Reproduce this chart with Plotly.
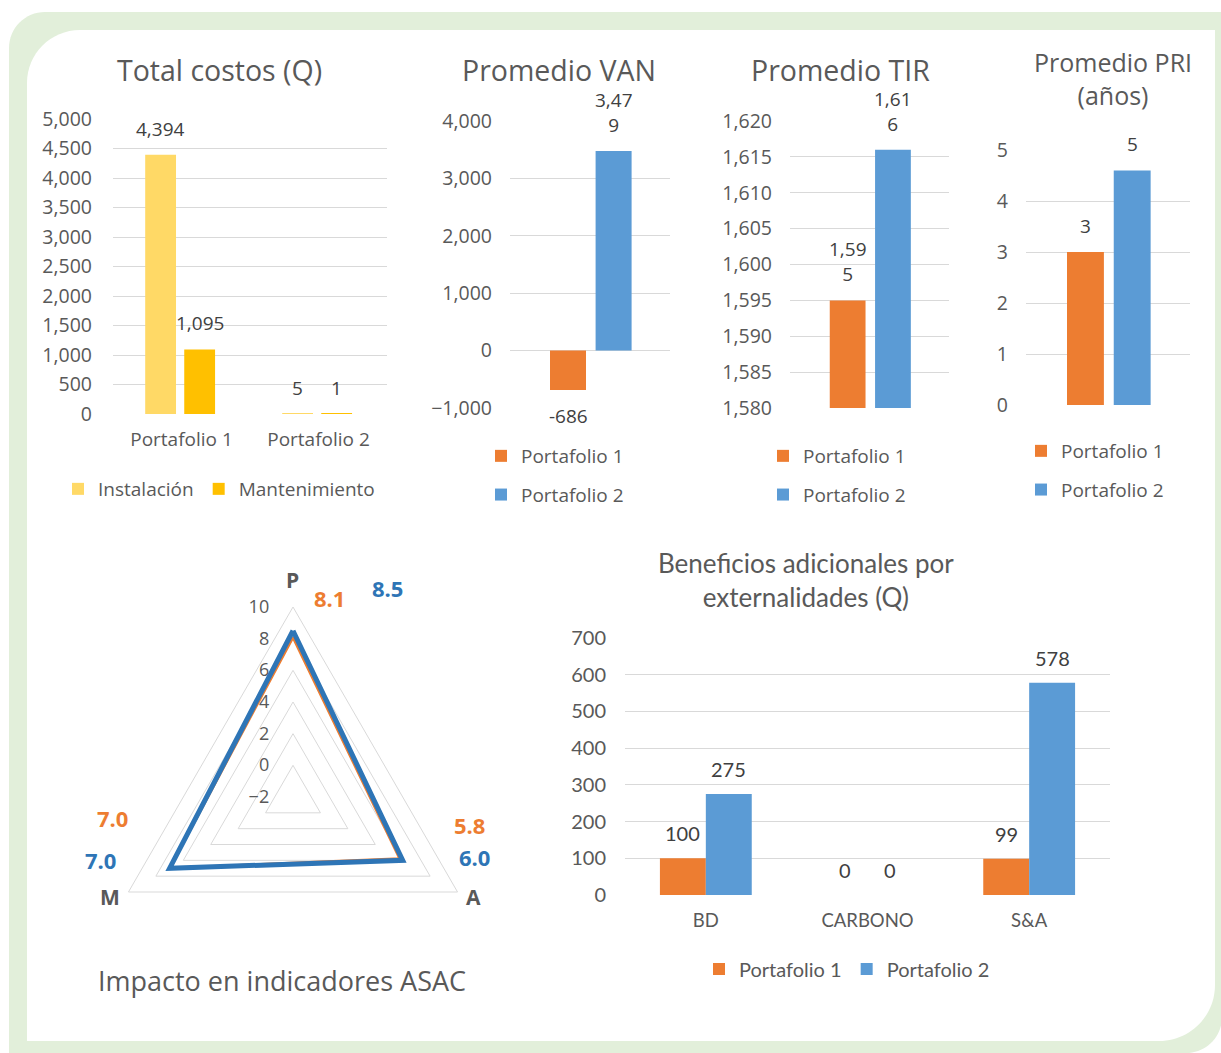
import plotly.graph_objects as go

W, H = 1221, 1053

# ---------------- data ----------------
costos_cats = ["Portafolio 1", "Portafolio 2"]
costos_instalacion = [4394, 5]
costos_mantenimiento = [1095, 1]

portafolios = ["Portafolio 1", "Portafolio 2"]
van_promedio = [-686, 3479]
tir_promedio = [1595, 1616]
pri_promedio = [3.0, 4.6]

asac_ejes = ["P", "A", "M"]
asac_portafolio1 = [8.1, 5.8, 7.0]
asac_portafolio2 = [8.5, 6.0, 7.0]

ext_cats = ["BD", "CARBONO", "S&A"]
ext_portafolio1 = [100, 0, 99]
ext_portafolio2 = [275, 0, 578]

# ---------------- styles ----------------
OS = "Open Sans, Noto Sans, sans-serif"
LATO = "Lato, Open Sans, sans-serif"
TXT = "#595959"
LBL = "#404040"
GRID = "#D9D9D9"
YEL_L = "#FFD966"
YEL = "#FFC000"
ORANGE = "#ED7D31"
BLUE = "#5B9BD5"
BLUE_D = "#2E75B6"
GREEN = "#E2EFDA"
SERIES_COLORS = [ORANGE, BLUE]


def px(x):
    return x / W


def py(y):
    return 1 - y / H


def comma(v):
    return f"{v:,.0f}"


def wrap4(s):
    # narrow bars: long labels break after four characters
    return s if len(s) <= 4 else s[:4] + "<br>" + s[4:]


fig = go.Figure()
annotations = []


def axname(n):
    return "" if n == 1 else str(n)


def add_bar(n, x, y, name, color, width, offset, legend, group=None):
    a = axname(n)
    fig.add_trace(go.Bar(
        x=x, y=y, name=name, width=width, offset=offset,
        marker=dict(color=color, line=dict(width=0)),
        xaxis="x" + a, yaxis="y" + a, legend=legend, legendgroup=group,
        hoverinfo="skip",
    ))


def add_labels(n, idx, values, offset, width, fmt, font):
    a = axname(n)
    for i, v in zip(idx, values):
        up = v >= 0
        annotations.append(dict(
            xref="x" + a, yref="y" + a, x=i + offset + width / 2, y=v,
            text=fmt(v), showarrow=False,
            yanchor="bottom" if up else "top", yshift=11 if up else -11,
            font=font,
        ))


lbl_font = dict(family=OS, size=19, color=LBL)
lbl_font_lato = dict(family=LATO, size=20, color=LBL)

# ---- Total costos (Q)
W1, O1 = 0.225, [-0.265, 0.02]
add_bar(1, costos_cats, costos_instalacion, "Instalación", YEL_L, W1, O1[0], "legend")
add_bar(1, costos_cats, costos_mantenimiento, "Mantenimiento", YEL, W1, O1[1], "legend")
add_labels(1, [0, 1], costos_instalacion, O1[0], W1, comma, lbl_font)
add_labels(1, [0, 1], costos_mantenimiento, O1[1], W1, comma, lbl_font)

# ---- Promedio VAN / TIR / PRI (one category, one bar per portfolio)
WS, OS_ = 0.225, [-0.25, 0.035]
for n, vals, leg, fmt in [
    (2, van_promedio, "legend2", lambda v: wrap4(comma(v))),
    (3, tir_promedio, "legend3", lambda v: wrap4(comma(v))),
    (4, pri_promedio, "legend4", lambda v: f"{v:.0f}"),
]:
    for k, name in enumerate(portafolios):
        add_bar(n, ["total"], [vals[k]], name, SERIES_COLORS[k], WS, OS_[k], leg, group=f"g{k}")
        add_labels(n, [0], [vals[k]], OS_[k], WS, fmt, lbl_font)

# ---- Beneficios adicionales por externalidades (Q)
W5, O5 = 0.284, [-0.284, 0.0]
for k, (name, vals) in enumerate(zip(portafolios, [ext_portafolio1, ext_portafolio2])):
    add_bar(5, ext_cats, vals, name, SERIES_COLORS[k], W5, O5[k], "legend5")
    add_labels(5, range(len(ext_cats)), vals, O5[k], W5, comma, lbl_font_lato)

# ---- Impacto en indicadores ASAC (radar)
for vals, color, lw in [(asac_portafolio1, ORANGE, 3), (asac_portafolio2, BLUE_D, 5)]:
    fig.add_trace(go.Scatterpolar(
        r=vals + vals[:1], theta=asac_ejes + asac_ejes[:1], mode="lines",
        line=dict(color=color, width=lw), subplot="polar", showlegend=False,
        hoverinfo="skip",
    ))

# axis names at the triangle corners
for name, (xp, yp) in zip(asac_ejes, [(292, 580), (473, 897), (110, 897)]):
    annotations.append(dict(
        xref="paper", yref="paper", x=px(xp), y=py(yp), text=name, showarrow=False,
        xanchor="center", yanchor="middle",
        font=dict(family=OS, size=21, color=TXT, weight="bold"),
    ))

# value labels around the radar
radar_lbl_pos = {
    0: [(329, 598), (469, 825), (112, 818)],
    1: [(387, 588), (474, 857), (100, 860)],
}
for k, (vals, color) in enumerate([(asac_portafolio1, ORANGE), (asac_portafolio2, BLUE_D)]):
    for (xp, yp), v in zip(radar_lbl_pos[k], vals):
        annotations.append(dict(
            xref="paper", yref="paper", x=px(xp), y=py(yp), text=f"{v:.1f}",
            showarrow=False, xanchor="center", yanchor="middle",
            font=dict(family=OS, size=22, color=color, weight="bold"),
        ))

# ---- chart titles
for text, xp, yp, size, fam in [
    ("Total costos (Q)", 219, 70, 28.5, OS),
    ("Promedio VAN", 559, 70, 28.5, OS),
    ("Promedio TIR", 840, 70, 28.5, OS),
    ("Promedio PRI<br>(años)", 1113, 78, 25, OS),
    ("Beneficios adicionales por<br>externalidades (Q)", 806, 580, 26, LATO),
    ("Impacto en indicadores ASAC", 282, 980, 27, OS),
]:
    annotations.append(dict(
        xref="paper", yref="paper", x=px(xp), y=py(yp), text=text, showarrow=False,
        xanchor="center", yanchor="middle", font=dict(family=fam, size=size, color=TXT),
    ))

# ---------------- axes ----------------
layout = dict(
    width=W, height=H, margin=dict(l=0, r=0, t=0, b=0, pad=0, autoexpand=False),
    paper_bgcolor="white", plot_bgcolor="rgba(0,0,0,0)",
    barmode="overlay", showlegend=True,
)

axes_spec = {
    1: dict(xd=(113, 387), yd=(414, 119), yr=[0, 5000], dt=500, ncat=2, ticks=True,
            fam=OS, fs=19.5, xfs=19, so=20),
    2: dict(xd=(510, 670), yd=(408, 121), yr=[-1000, 4000], dt=1000, ncat=1, ticks=False,
            fam=OS, fs=19.5, xfs=19, so=17),
    3: dict(xd=(790, 949), yd=(408, 121), yr=[1580, 1620], dt=5, ncat=1, ticks=False,
            fam=OS, fs=19.5, xfs=19, so=17),
    4: dict(xd=(1026, 1190), yd=(405, 150), yr=[0, 5], dt=1, ncat=1, ticks=False,
            fam=OS, fs=19.5, xfs=19, so=17),
    5: dict(xd=(625, 1110), yd=(895, 638), yr=[0, 700], dt=100, ncat=3, ticks=True,
            fam=LATO, fs=20, xfs=18.5, so=18),
}
for n, s in axes_spec.items():
    a = axname(n)
    layout["xaxis" + a] = dict(
        domain=[px(s["xd"][0]), px(s["xd"][1])], anchor="y" + a, type="category",
        range=[-0.5, s["ncat"] - 0.5], showgrid=False, showline=False, zeroline=False,
        ticks="", showticklabels=s["ticks"], ticklabelstandoff=12, automargin=False,
        tickfont=dict(family=s["fam"], size=s["xfs"], color=TXT), fixedrange=True,
    )
    layout["yaxis" + a] = dict(
        domain=[py(s["yd"][0]), py(s["yd"][1])], anchor="x" + a, range=s["yr"],
        tick0=s["yr"][0], dtick=s["dt"], tickformat=",", showgrid=True, gridcolor=GRID,
        gridwidth=1, zeroline=False, showline=False, ticks="", ticklabelstandoff=s["so"],
        automargin=False,
        tickfont=dict(family=s["fam"], size=s["fs"], color=TXT), fixedrange=True,
    )

layout["polar"] = dict(
    domain=dict(x=[px(103), px(483)], y=[py(987), py(607)]),
    bgcolor="rgba(0,0,0,0)", gridshape="linear", hole=0,
    angularaxis=dict(
        rotation=90, direction="clockwise", showgrid=False, showline=True,
        linecolor=GRID, linewidth=1, ticks="", showticklabels=False,
    ),
    radialaxis=dict(
        range=[-2, 10], tick0=0, dtick=2, angle=90, tickangle=90, showline=False,
        ticks="outside", ticklen=17, tickcolor="rgba(0,0,0,0)", gridcolor=GRID,
        side="counterclockwise",
        tickfont=dict(family=OS, size=18, color=TXT),
    ),
)

leg_font = dict(family=OS, size=19, color=TXT)
layout["legend"] = dict(orientation="h", x=px(58), y=py(489), xanchor="left", yanchor="middle",
                        font=leg_font, bgcolor="rgba(0,0,0,0)", itemwidth=30)
for name, xp, yp in [("legend2", 481, 437), ("legend3", 763, 437), ("legend4", 1021, 432)]:
    layout[name] = dict(orientation="v", x=px(xp), y=py(yp), xanchor="left", yanchor="top",
                        font=leg_font, bgcolor="rgba(0,0,0,0)", itemwidth=30,
                        traceorder="grouped", tracegroupgap=11)
layout["legend5"] = dict(orientation="h", x=px(699), y=py(969), xanchor="left", yanchor="middle",
                         font=dict(family=LATO, size=20, color=TXT), bgcolor="rgba(0,0,0,0)",
                         itemwidth=30)


# ---------------- rounded frame ----------------
def frame_path(x0, y0, x1, y1, r_tl, r_br):
    k = 0.5523
    pts = [
        ("M", [(x0 + r_tl, y0)]),
        ("L", [(x1, y0)]),
        ("L", [(x1, y1 - r_br)]),
        ("C", [(x1, y1 - r_br + k * r_br), (x1 - r_br + k * r_br, y1), (x1 - r_br, y1)]),
        ("L", [(x0, y1)]),
        ("L", [(x0, y0 + r_tl)]),
        ("C", [(x0, y0 + r_tl - k * r_tl), (x0 + r_tl - k * r_tl, y0), (x0 + r_tl, y0)]),
    ]
    out = []
    for cmd, ps in pts:
        out.append(cmd + " " + " ".join(f"{px(a):.5f},{py(b):.5f}" for a, b in ps))
    return " ".join(out) + " Z"


layout["shapes"] = [
    dict(type="path", xref="paper", yref="paper", layer="below",
         path=frame_path(9, 12, 1222, 1053, 36, 36), fillcolor=GREEN, line=dict(width=0)),
    dict(type="path", xref="paper", yref="paper", layer="below",
         path=frame_path(27, 30, 1215, 1041, 53, 56), fillcolor="white", line=dict(width=0)),
]
layout["annotations"] = annotations

fig.update_layout(**layout)
fig.write_html("out.html", config={"displayModeBar": False})
